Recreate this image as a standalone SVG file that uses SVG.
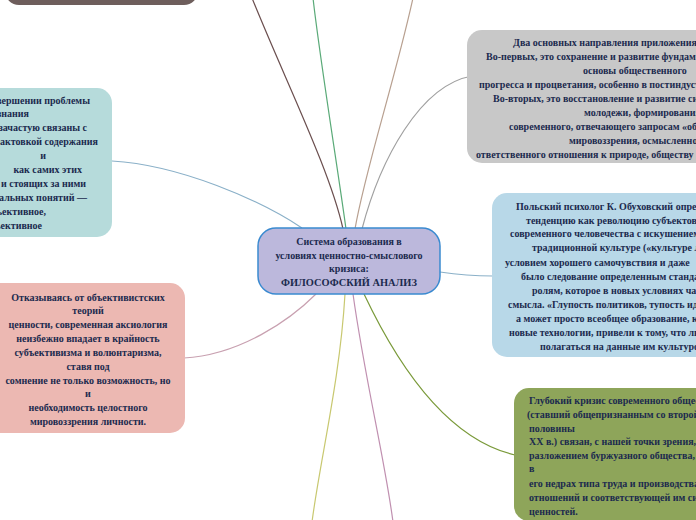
<svg xmlns="http://www.w3.org/2000/svg" width="696" height="520" viewBox="0 0 696 520">
<style>
.t{font-family:"Liberation Serif","Times New Roman",serif;font-weight:bold;font-size:10px;fill:#1b2a4e}
.c{text-anchor:middle}
.e{text-anchor:end}
.ln{fill:none;stroke-width:1.2}
</style>
<rect width="696" height="520" fill="#ffffff"/>
<g id="connectors">
<path class="ln" stroke="#6b4f4f" d="M252,-2 C285,80 330,170 343,229"/>
<path class="ln" stroke="#5aaa78" d="M313,-2 C320,60 338,170 346,229"/>
<path class="ln" stroke="#b8a090" d="M413,-2 C395,80 365,170 355,229"/>
<path class="ln" stroke="#a0a0a0" d="M362,229 C380,160 420,85 472,76"/>
<path class="ln" stroke="#8ab0c8" d="M112,161 C180,165 260,200 302,228"/>
<path class="ln" stroke="#8ab0c8" d="M440,272 C460,275 475,276 493,276"/>
<path class="ln" stroke="#c8a0b0" d="M184,358 C240,355 290,320 316,294"/>
<path class="ln" stroke="#7a9a3a" d="M364,294 C400,370 450,440 515,455"/>
<path class="ln" stroke="#c8c870" d="M345,294 C340,380 320,460 312,522"/>
<path class="ln" stroke="#c090b0" d="M353,294 C365,380 385,460 393,522"/>
</g>
<g id="node-top-left">
<rect x="5" y="-40" width="193" height="45" rx="14" fill="#6e5e5c"/>
</g>
<g id="node-center">
<rect x="258" y="228" width="182" height="66" rx="18" fill="#bcb8dc" stroke="#3a8ad0" stroke-width="1.5"/>
<text class="t c" x="349" y="244.5">Система образования в</text>
<text class="t c" x="349" y="258.5">условиях ценностно-смыслового</text>
<text class="t c" x="349" y="272">кризиса:</text>
<text class="t c" x="349" y="286" style="font-size:10.4px">ФИЛОСОФСКИЙ АНАЛИЗ</text>
</g>
<g id="node-left-blue">
<rect x="-20" y="88" width="132" height="149" rx="15" fill="#b6dbdb"/>
<text class="t e" x="90" y="103.5">При завершении проблемы</text>
<text class="t e" x="29" y="117">сознания</text>
<text class="t e" x="87" y="131">зачастую связаны с</text>
<text class="t e" x="98" y="145">трактовкой содержания</text>
<text class="t e" x="46" y="159">и</text>
<text class="t e" x="82" y="173">как самих этих</text>
<text class="t e" x="86" y="187">ценностей и стоящих за ними</text>
<text class="t e" x="87" y="201">фундаментальных понятий —</text>
<text class="t e" x="46" y="215">объективное,</text>
<text class="t e" x="42" y="229">субъективное</text>
</g>
<g id="node-left-pink">
<rect x="-20" y="283" width="205" height="150" rx="15" fill="#ecb8b2"/>
<text class="t c" x="88" y="300.5">Отказываясь от объективистских</text>
<text class="t c" x="88" y="314">теорий</text>
<text class="t c" x="88" y="328">ценности, современная аксиология</text>
<text class="t c" x="88" y="341.5">неизбежно впадает в крайность</text>
<text class="t c" x="88" y="355.5">субъективизма и волюнтаризма,</text>
<text class="t c" x="88" y="369.5">ставя под</text>
<text class="t c" x="88" y="383.5">сомнение не только возможность, но</text>
<text class="t c" x="88" y="397">и</text>
<text class="t c" x="88" y="411">необходимость целостного</text>
<text class="t c" x="88" y="425">мировоззрения личности.</text>
</g>
<g id="node-right-gray">
<rect x="467" y="30" width="260" height="133" rx="15" fill="#c8c8c8"/>
<text class="t" x="513" y="46">Два основных направления приложения</text>
<text class="t" x="486" y="60">Во-первых, это сохранение и развитие фундаментальных</text>
<text class="t" x="583" y="74">основы общественного</text>
<text class="t" x="479" y="88">прогресса и процветания, особенно в постиндустриальном</text>
<text class="t" x="493" y="102">Во-вторых, это восстановление и развитие системы</text>
<text class="t" x="584" y="116">молодежи, формирования</text>
<text class="t" x="509" y="130">современного, отвечающего запросам «общества»</text>
<text class="t" x="569" y="144">мировоззрения, осмысленного</text>
<text class="t" x="476" y="158">ответственного отношения к природе, обществу</text>
</g>
<g id="node-right-blue">
<rect x="492" y="193" width="240" height="164" rx="15" fill="#b8d8e8"/>
<text class="t" x="516" y="209.5">Польский психолог К. Обуховский определяет</text>
<text class="t" x="526" y="223.5">тенденцию как революцию субъектов на</text>
<text class="t" x="510" y="236.5">современного человечества с искушением</text>
<text class="t" x="532" y="250.5">традиционной культуре («культуре людей</text>
<text class="t" x="505" y="265.5">условием хорошего самочувствия и даже</text>
<text class="t" x="521" y="279.5">было следование определенным стандартам</text>
<text class="t" x="532" y="293.5">ролям, которое в новых условиях часто</text>
<text class="t" x="508" y="307.5">смысла. «Глупость политиков, тупость идей</text>
<text class="t" x="516" y="321.5">а может просто всеобщее образование, как</text>
<text class="t" x="509" y="335.5">новые технологии, привели к тому, что люди</text>
<text class="t" x="540" y="349.5">полагаться на данные им культурой</text>
</g>
<g id="node-right-green">
<rect x="514" y="388" width="220" height="133" rx="15" fill="#8ea55a"/>
<text class="t" x="529" y="404">Глубокий кризис современного общества</text>
<text class="t" x="527" y="417.5">(ставший общепризнанным со второй</text>
<text class="t" x="529" y="431.5">половины</text>
<text class="t" x="529" y="445">XX в.) связан, с нашей точки зрения,</text>
<text class="t" x="529" y="458.5">разложением буржуазного общества,</text>
<text class="t" x="529" y="472">в</text>
<text class="t" x="529" y="486.5">его недрах типа труда и производства</text>
<text class="t" x="529" y="500.5">отношений и соответствующей им системы</text>
<text class="t" x="529" y="514.5">ценностей.</text>
</g>
</svg>
